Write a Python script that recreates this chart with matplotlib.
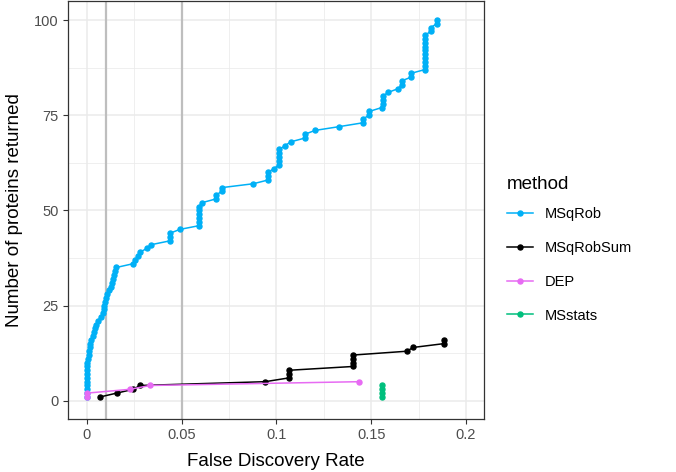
import matplotlib
matplotlib.use("Agg")
import matplotlib.pyplot as plt
from matplotlib.lines import Line2D

plt.rcParams["font.family"] = ["Liberation Sans", "DejaVu Sans"]

# MSqRob: FDR for each of the top 100 proteins (rank = number returned)
msqrob_fdr = [0.0, 0.0, 0.0, 0.0, 0.0, 0.0, 0.0, 0.0, 0.0, 0.0,
              0.0005, 0.001, 0.0012, 0.0015, 0.0018, 0.002, 0.003, 0.0035, 0.0042, 0.005,
              0.0058, 0.0072, 0.0084, 0.0088, 0.009, 0.0093, 0.0098, 0.0105, 0.0115, 0.0125,
              0.013, 0.0135, 0.0141, 0.0148, 0.0155, 0.0244, 0.0253, 0.027, 0.028, 0.0315,
              0.034, 0.0438, 0.0438, 0.0438, 0.049, 0.0593, 0.0593, 0.0593, 0.0593, 0.0593,
              0.0593, 0.0605, 0.068, 0.068, 0.0712, 0.0715, 0.0878, 0.0957, 0.0957, 0.0957,
              0.0987, 0.1015, 0.1015, 0.1015, 0.1015, 0.1015, 0.1045, 0.1075, 0.115, 0.115,
              0.1203, 0.1331, 0.1455, 0.1455, 0.149, 0.149, 0.1555, 0.156, 0.156, 0.156,
              0.159, 0.1643, 0.166, 0.166, 0.171, 0.171, 0.1784, 0.1784, 0.1784, 0.1784,
              0.1784, 0.1784, 0.1784, 0.1784, 0.1784, 0.1784, 0.1813, 0.1813, 0.1845, 0.1845]
msqrob_n = list(range(1, 101))

msqrobsum_fdr = [0.007, 0.0157, 0.0244, 0.028, 0.094, 0.1066, 0.1066, 0.1066,
                 0.1405, 0.1405, 0.1405, 0.1405, 0.1687, 0.1722, 0.1884, 0.1884]
msqrobsum_n = list(range(1, 17))

dep_fdr = [0.0, 0.0, 0.0227, 0.0332, 0.1437]
dep_n = [1, 2, 3, 4, 5]

msstats_fdr = [0.1555, 0.1555, 0.1555, 0.1555]
msstats_n = [1, 2, 3, 4]

methods = ["MSqRob", "MSqRobSum", "DEP", "MSstats"]
colors = ["#00B0F6", "#000000", "#E76BF3", "#00BF7D"]
series = [(msqrob_fdr, msqrob_n), (msqrobsum_fdr, msqrobsum_n),
          (dep_fdr, dep_n), (msstats_fdr, msstats_n)]

fig = plt.figure(figsize=(6.76, 4.72), dpi=100)
ax = fig.add_axes([68 / 676, 1 - 419 / 472, (484 - 68) / 676, (419 - 1) / 472])

ax.set_facecolor("white")
ax.set_xticks([0, 0.05, 0.1, 0.15, 0.2])
ax.set_xticklabels(["0", "0.05", "0.1", "0.15", "0.2"])
ax.set_yticks([0, 25, 50, 75, 100])
ax.set_xticks([0.025, 0.075, 0.125, 0.175], minor=True)
ax.set_yticks([12.5, 37.5, 62.5, 87.5], minor=True)
ax.grid(which="major", color="#EBEBEB", linewidth=1.1, zorder=0)
ax.grid(which="minor", color="#EBEBEB", linewidth=0.55, zorder=0)
ax.tick_params(which="minor", length=0)
ax.tick_params(which="major", length=3.5, width=0.8, color="#333333",
               labelsize=10.5, labelcolor="#4D4D4D", pad=3)
for s in ax.spines.values():
    s.set_color("#333333")
    s.set_linewidth(0.9)
ax.set_axisbelow(True)

ax.axvline(0.01, color="#BEBEBE", linewidth=1.6, zorder=1)
ax.axvline(0.05, color="#BEBEBE", linewidth=1.6, zorder=1)

for (x, y), c in zip(series, colors):
    ax.plot(x, y, color=c, linewidth=1.1, marker="o", markersize=3.6, zorder=3)

ax.set_xlim(-0.010, 0.2095)
ax.set_ylim(-4.8, 105)
ax.set_xlabel("False Discovery Rate", fontsize=13.5, labelpad=8)
ax.set_ylabel("Number of proteins returned", fontsize=13.5, labelpad=8)

handles = [Line2D([0], [0], color=c, linewidth=1.1, marker="o", markersize=3.6)
           for c in colors]
leg = fig.legend(handles, methods, title="method", loc="upper left",
                 bbox_to_anchor=(494 / 676, 1 - 163 / 472), frameon=False,
                 fontsize=10.5, title_fontsize=13.5, labelspacing=1.36,
                 handlelength=1.8, handletextpad=0.75, alignment="left")
leg._legend_box.sep = 10

fig.savefig("out.png", dpi=100)
